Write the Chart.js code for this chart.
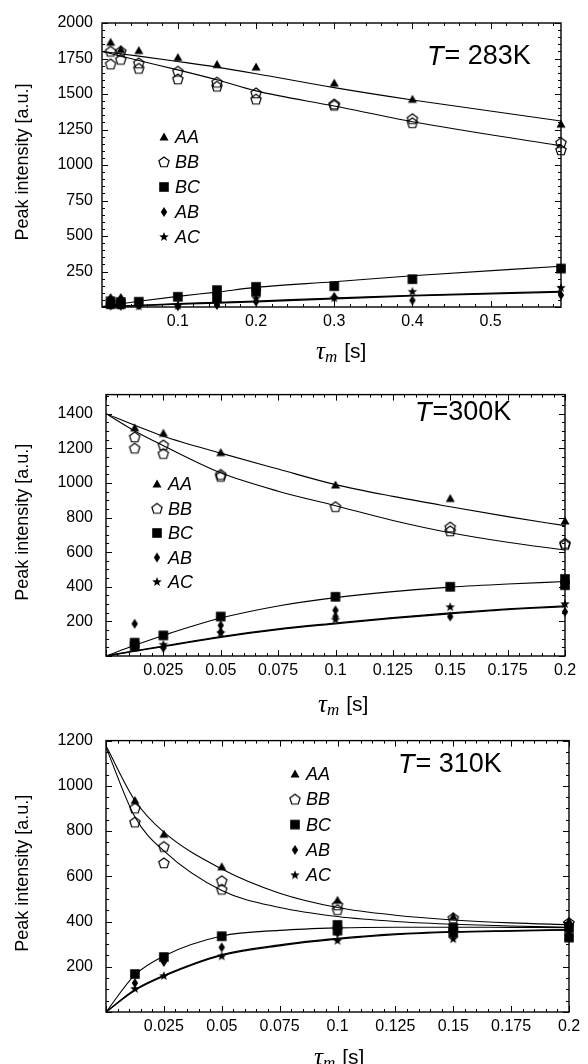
<!DOCTYPE html>
<html>
<head>
<meta charset="utf-8">
<script src="https://cdn.jsdelivr.net/npm/chart.js@4.4.1/dist/chart.umd.min.js"></script>
<style>
  body { margin: 0; background: #fff; }
  .panel { position: absolute; left: 0; width: 588px; }
</style>
</head>
<body>
<div class="panel" style="top:0;height:372px"><canvas id="c283" width="588" height="372"></canvas></div>
<div class="panel" style="top:372px;height:346px"><canvas id="c300" width="588" height="346"></canvas></div>
<div class="panel" style="top:718px;height:346px"><canvas id="c310" width="588" height="346"></canvas></div>
<script>
const seriesNames = ['AA', 'BB', 'BC', 'AB', 'AC'];

// T = 283 K
const tau283 = [0.014, 0.027, 0.05, 0.1, 0.15, 0.2, 0.3, 0.4, 0.59];
const aa283  = [1864, 1813, 1806, 1757, 1708, 1690, 1577, 1463, 1288];
const bb283  = [1800, 1800, 1717, 1659, 1582, 1507, 1428, 1325, 1157];
const bb283b = [1710, 1743, 1680, 1605, 1554, 1463, 1420, 1297, 1106];
const bc283  = [40, 35, 37, 72, 119, 142, 147, 196, 271];
const bc283b = [20, 20, null, null, 62, 107, null, null, null];
const ab283  = [63, 63, 12, 5, 14, 37, 72, 47, 84];
const ab283b = [10, 8, null, null, null, null, null, null, null];
const ac283  = [12, 10, 5, 10, 30, 60, 62, 107, 135];
const fitTau283 = [0.003, 0.05, 0.1, 0.15, 0.2, 0.3, 0.4, 0.59];
const fitAA283 = [1800, 1767, 1729, 1689, 1643, 1545, 1458, 1310];
const fitBB283 = [1800, 1736, 1670, 1600, 1522, 1415, 1305, 1135];
const fitBC283 = [3, 40, 75, 105, 138, 178, 220, 287];
const fitAB283 = [0, 10, 20, 28, 37, 58, 78, 105];
const fitAC283 = [0, 12, 23, 32, 42, 63, 82, 110];
const xTicks283 = [0.1, 0.2, 0.3, 0.4, 0.5];
const yTicks283 = [250, 500, 750, 1000, 1250, 1500, 1750, 2000];

// T = 300 K
const tau300 = [0.0125, 0.025, 0.05, 0.1, 0.15, 0.2];
const aa300  = [1318, 1287, 1175, 988, 910, 780];
const bb300  = [1265, 1218, 1048, 862, 744, 644];
const bb300b = [1200, 1169, 1037, null, 722, 650];
const bc300  = [77, 119, 228, 342, 400, 445];
const bc300b = [56, null, null, null, null, 409];
const ab300  = [186, 47, 177, 264, 228, 255];
const ab300b = [null, null, 140, 228, null, null];
const ac300  = [49, 65, 132, 210, 282, 300];
const fitTau300 = [0, 0.0125, 0.025, 0.05, 0.075, 0.1, 0.125, 0.15, 0.175, 0.2];
const fitAA300 = [1400, 1333, 1270, 1172, 1080, 990, 922, 862, 805, 753];
const fitBB300 = [1400, 1300, 1215, 1058, 952, 868, 783, 712, 657, 612];
const fitBC300 = [0, 62, 119, 219, 289, 337, 372, 398, 416, 430];
const fitAB300 = [0, 28, 54, 108, 152, 186, 218, 244, 268, 285];
const fitAC300 = [0, 30, 57, 112, 156, 190, 222, 249, 272, 290];
const xTicks300 = [0.025, 0.05, 0.075, 0.1, 0.125, 0.15, 0.175, 0.2];
const yTicks300 = [200, 400, 600, 800, 1000, 1200, 1400];

// T = 310 K
const tau310 = [0.0125, 0.025, 0.05, 0.1, 0.15, 0.2];
const aa310  = [935, 786, 642, 494, 422, 401];
const bb310  = [901, 731, 580, 473, 415, 394];
const bb310b = [839, 659, 542, 452, null, null];
const bc310  = [168, 243, 335, 385, 372, 372];
const bc310b = [null, null, null, 360, 350, 329];
const ab310  = [128, 221, 286, 350, 365, 379];
const ac310  = [102, 159, 246, 315, 322, 358];
const fitTau310 = [0, 0.0125, 0.025, 0.05, 0.075, 0.1, 0.125, 0.15, 0.175, 0.2];
const fitAA310 = [1177, 935, 795, 632, 525, 462, 428, 407, 394, 386];
const fitBB310 = [1170, 862, 712, 537, 462, 422, 400, 388, 380, 375];
const fitBC310 = [0, 164, 248, 336, 361, 372, 375, 375, 374, 373];
const fitAB310 = [0, 95, 158, 250, 293, 322, 342, 353, 358, 362];
const fitAC310 = [0, 99, 162, 254, 297, 325, 345, 355, 360, 364];
const xTicks310 = [0.025, 0.05, 0.075, 0.1, 0.125, 0.15, 0.175, 0.2];
const yTicks310 = [200, 400, 600, 800, 1000, 1200];

// marker images (Mathematica-like symbols)
function makeMarker(kind) {
  const c = document.createElement('canvas');
  c.width = 14; c.height = 14;
  const g = c.getContext('2d');
  g.translate(7, 7);
  g.fillStyle = '#000';
  g.strokeStyle = '#000';
  g.lineWidth = 1.2;
  g.beginPath();
  if (kind === 'triangle') {
    g.moveTo(0, -4.5); g.lineTo(4.5, 3.6); g.lineTo(-4.5, 3.6); g.closePath(); g.fill();
  } else if (kind === 'pentagon') {
    for (let k = 0; k < 5; k++) {
      const t = -Math.PI / 2 + k * 2 * Math.PI / 5;
      const px = 5.4 * Math.cos(t), py = 5.4 * Math.sin(t) + 0.4;
      if (k) g.lineTo(px, py); else g.moveTo(px, py);
    }
    g.closePath(); g.stroke();
  } else if (kind === 'square') {
    g.fillRect(-4.8, -4.8, 9.6, 9.6);
  } else if (kind === 'diamond') {
    g.moveTo(0, -5); g.lineTo(3.2, 0); g.lineTo(0, 5); g.lineTo(-3.2, 0); g.closePath(); g.fill();
  } else if (kind === 'star') {
    for (let k = 0; k < 10; k++) {
      const r = k % 2 ? 2.1 : 5;
      const t = -Math.PI / 2 + k * Math.PI / 5;
      if (k) g.lineTo(r * Math.cos(t), r * Math.sin(t)); else g.moveTo(r * Math.cos(t), r * Math.sin(t));
    }
    g.closePath(); g.fill();
  }
  return c;
}
const markers = {
  AA: makeMarker('triangle'), BB: makeMarker('pentagon'), BC: makeMarker('square'),
  AB: makeMarker('diamond'), AC: makeMarker('star')
};

function pts(xs, ys) {
  return xs.map((x, i) => ({ x: x, y: ys[i] })).filter(p => p.y !== null);
}
function pointSet(name, xs, runs) {
  return {
    label: name, data: runs.flatMap(r => pts(xs, r)), showLine: false, clip: false,
    pointStyle: markers[name], pointRadius: 6, pointHoverRadius: 6
  };
}
function fitSet(xs, ys, w) {
  return {
    data: pts(xs, ys), showLine: true, pointRadius: 0, borderColor: '#000',
    borderWidth: w || 1.1, cubicInterpolationMode: 'monotone', fill: false
  };
}

//  frame with inward major / minor ticks on all four sides
const frameTicks = {
  id: 'frameTicks',
  afterDatasetsDraw(chart, args, o) {
    const { ctx, chartArea: a } = chart;
    const sx = chart.scales.x, sy = chart.scales.y;
    const steps = (min, max, step) => {
      const out = [];
      for (let i = Math.ceil(min / step - 1e-9); i * step <= max + 1e-9; i++) out.push(i * step);
      return out;
    };
    const isMajor = (v, m) => Math.abs(v / m - Math.round(v / m)) < 1e-6;
    ctx.save();
    ctx.strokeStyle = '#000';
    ctx.lineWidth = 1;
    ctx.beginPath();
    steps(sx.min, sx.max, o.xMinor).forEach(v => {
      const len = isMajor(v, o.xMajor) ? 6 : 3;
      const px = Math.round(sx.getPixelForValue(v)) + 0.5;
      ctx.moveTo(px, a.bottom); ctx.lineTo(px, a.bottom - len);
      ctx.moveTo(px, a.top); ctx.lineTo(px, a.top + len);
    });
    steps(sy.min, sy.max, o.yMinor).forEach(v => {
      const len = isMajor(v, o.yMajor) ? 6 : 3;
      const py = Math.round(sy.getPixelForValue(v)) + 0.5;
      ctx.moveTo(a.left, py); ctx.lineTo(a.left + len, py);
      ctx.moveTo(a.right, py); ctx.lineTo(a.right - len, py);
    });
    ctx.stroke();
    ctx.lineWidth = 1.4;
    ctx.strokeRect(a.left, a.top, a.right - a.left, a.bottom - a.top);
    ctx.restore();
  }
};

//  axis titles, temperature label and legend
const panelText = {
  id: 'panelText',
  afterDraw(chart, args, o) {
    const { ctx, chartArea: a } = chart;
    ctx.save();
    ctx.fillStyle = '#000';
    ctx.textBaseline = 'middle';

    ctx.save();
    ctx.translate(o.yTitleX, (a.top + a.bottom) / 2 - 3);
    ctx.rotate(-Math.PI / 2);
    ctx.textAlign = 'center';
    ctx.font = '18px "Liberation Sans", Arial, sans-serif';
    ctx.fillText('Peak intensity [a.u.]', 0, 0);
    ctx.restore();

    // tau_m [s]
    ctx.textAlign = 'left';
    let x = o.xTitleX;
    ctx.font = 'italic 25px "Liberation Serif", "DejaVu Serif", serif';
    ctx.fillText('τ', x, o.xTitleY);
    x += ctx.measureText('τ').width;
    ctx.font = 'italic 17px "Liberation Serif", "DejaVu Serif", serif';
    ctx.fillText('m', x, o.xTitleY + 6);
    x += ctx.measureText('m').width + 7;
    ctx.font = '21px "Liberation Sans", Arial, sans-serif';
    ctx.fillText('[s]', x, o.xTitleY);

    // T = ...K
    x = o.tempX;
    ctx.font = 'italic 27px "Liberation Sans", Arial, sans-serif';
    ctx.fillText('T', x, o.tempY);
    x += ctx.measureText('T').width + 1;
    ctx.font = '27px "Liberation Sans", Arial, sans-serif';
    ctx.fillText(o.temp, x, o.tempY);

    // legend
    ctx.font = 'italic 18px "Liberation Sans", Arial, sans-serif';
    seriesNames.forEach((name, i) => {
      const ly = o.legendY + i * o.legendGap;
      const m = markers[name];
      ctx.drawImage(m, o.legendX - m.width / 2, ly - m.height / 2);
      ctx.fillText(name, o.legendX + 11, ly + 1);
    });
    ctx.restore();
  }
};

function drawPanel(id, cfg) {
  const canvas = document.getElementById(id);
  const H = canvas.height;
  const tickFont = { family: '"Liberation Sans", Arial, sans-serif', size: 16 };
  new Chart(canvas, {
    type: 'scatter',
    data: { datasets: cfg.datasets },
    options: {
      responsive: false,
      animation: false,
      events: [],
      layout: { padding: { top: cfg.area.top, right: 588 - cfg.area.right, left: 0, bottom: 0 } },
      plugins: {
        legend: { display: false },
        tooltip: { enabled: false },
        frameTicks: cfg.ticks,
        panelText: cfg.text
      },
      scales: {
        x: {
          type: 'linear', min: cfg.xRange[0], max: cfg.xRange[1],
          grid: { display: false, drawTicks: false }, border: { display: false },
          ticks: { color: '#000', font: tickFont, padding: 5, autoSkip: false, maxRotation: 0, callback: v => String(v) },
          afterBuildTicks: s => { s.ticks = cfg.xTicks.map(v => ({ value: v })); },
          afterFit: s => { s.height = H - cfg.area.bottom; }
        },
        y: {
          type: 'linear', min: cfg.yRange[0], max: cfg.yRange[1],
          grid: { display: false, drawTicks: false }, border: { display: false },
          ticks: { color: '#000', font: tickFont, padding: cfg.yPad, autoSkip: false, callback: v => String(v) },
          afterBuildTicks: s => { s.ticks = cfg.yTicks.map(v => ({ value: v })); },
          afterFit: s => { s.width = cfg.area.left; }
        }
      }
    },
    plugins: [frameTicks, panelText]
  });
}

drawPanel('c283', {
  area: { left: 102, top: 23, right: 561, bottom: 307 },
  xRange: [0.003, 0.59], yRange: [0, 2000], yPad: 9,
  xTicks: xTicks283, yTicks: yTicks283,
  ticks: { xMajor: 0.1, xMinor: 0.02, yMajor: 250, yMinor: 50 },
  text: { yTitleX: 23, xTitleX: 316, xTitleY: 352, temp: '= 283K', tempX: 427, tempY: 57,
          legendX: 164, legendY: 137, legendGap: 25 },
  datasets: [
    pointSet('AA', tau283, [aa283]),
    pointSet('BB', tau283, [bb283, bb283b]),
    pointSet('BC', tau283, [bc283, bc283b]),
    pointSet('AB', tau283, [ab283, ab283b]),
    pointSet('AC', tau283, [ac283]),
    fitSet(fitTau283, fitAA283),
    fitSet(fitTau283, fitBB283),
    fitSet(fitTau283, fitBC283),
    fitSet(fitTau283, fitAB283, 1.3),
    fitSet(fitTau283, fitAC283, 1.3)
  ]
});

drawPanel('c300', {
  area: { left: 106, top: 7, right: 565, bottom: 284 },
  xRange: [0, 0.2], yRange: [0, 1510], yPad: 13,
  xTicks: xTicks300, yTicks: yTicks300,
  ticks: { xMajor: 0.025, xMinor: 0.005, yMajor: 200, yMinor: 50 },
  text: { yTitleX: 23, xTitleX: 318, xTitleY: 333, temp: '=300K', tempX: 415, tempY: 41,
          legendX: 157, legendY: 112, legendGap: 24.5 },
  datasets: [
    pointSet('AA', tau300, [aa300]),
    pointSet('BB', tau300, [bb300, bb300b]),
    pointSet('BC', tau300, [bc300, bc300b]),
    pointSet('AB', tau300, [ab300, ab300b]),
    pointSet('AC', tau300, [ac300]),
    fitSet(fitTau300, fitAA300),
    fitSet(fitTau300, fitBB300),
    fitSet(fitTau300, fitBC300),
    fitSet(fitTau300, fitAB300, 1.3),
    fitSet(fitTau300, fitAC300, 1.3)
  ]
});

drawPanel('c310', {
  area: { left: 106, top: 15, right: 569, bottom: 294 },
  xRange: [0, 0.2], yRange: [0, 1200], yPad: 13,
  xTicks: xTicks310, yTicks: yTicks310,
  ticks: { xMajor: 0.025, xMinor: 0.005, yMajor: 200, yMinor: 50 },
  text: { yTitleX: 23, xTitleX: 314, xTitleY: 340, temp: '= 310K', tempX: 398, tempY: 47,
          legendX: 295, legendY: 56, legendGap: 25.3 },
  datasets: [
    pointSet('AA', tau310, [aa310]),
    pointSet('BB', tau310, [bb310, bb310b]),
    pointSet('BC', tau310, [bc310, bc310b]),
    pointSet('AB', tau310, [ab310]),
    pointSet('AC', tau310, [ac310]),
    fitSet(fitTau310, fitAA310),
    fitSet(fitTau310, fitBB310),
    fitSet(fitTau310, fitBC310),
    fitSet(fitTau310, fitAB310, 1.3),
    fitSet(fitTau310, fitAC310, 1.3)
  ]
});
</script>
</body>
</html>
